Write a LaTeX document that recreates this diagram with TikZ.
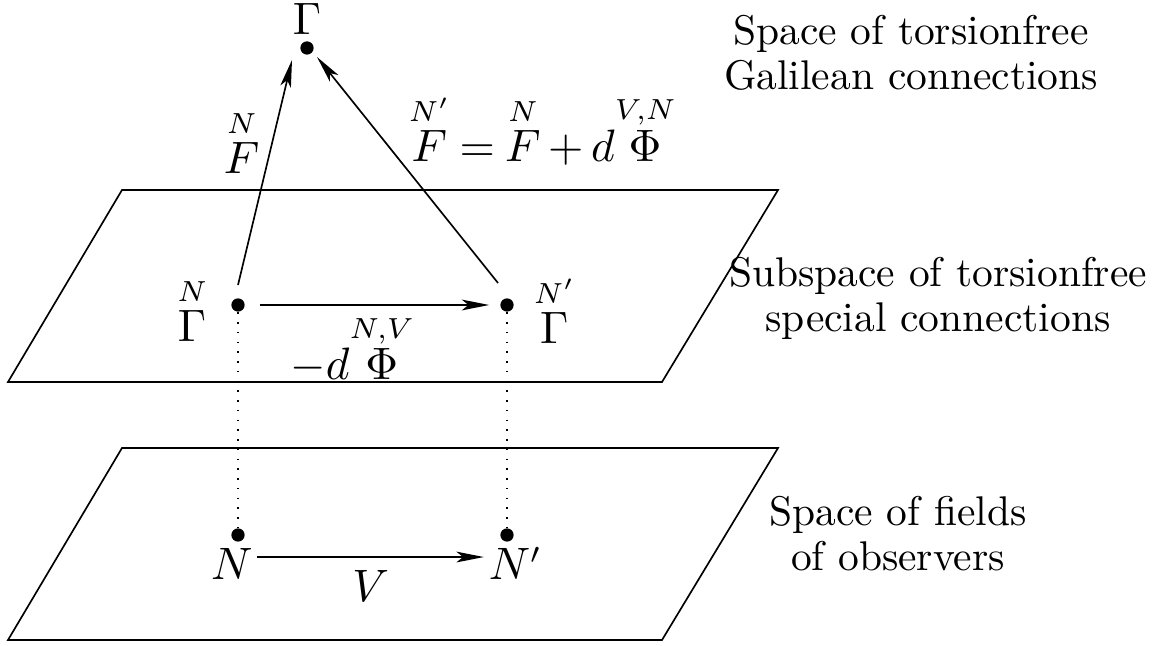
\documentclass[tikz,border=0pt]{standalone}
\usepackage{amsmath,amssymb}
\usetikzlibrary{arrows.meta,positioning}

\begin{document}
\begin{tikzpicture}[x=0.241pt, y=-0.241pt,
  dot/.style={circle, fill=black, inner sep=0pt, minimum size=3.2pt},
  lbl/.style={inner sep=1pt, font=\fontsize{10.6}{12.5}\selectfont},
  ptlbl/.style={lbl, text height=1.8ex, text depth=0.2ex},
  txt/.style={align=center, inner sep=0pt},
  arr/.style={-{Stealth[length=6.6pt,width=2.6pt,inset=1.6pt]}},
  plane/.style={draw, line width=0.4pt},
  vert/.style={dotted, line width=0.35pt},
]
\useasboundingbox (0,0) rectangle (1162,646);

% planes
\draw[plane] (122,190) -- (778,190) -- (662,382) -- (8,382) -- cycle;
\draw[plane] (122,448) -- (778,448) -- (662,640) -- (8,640) -- cycle;

% points
\node[dot] (gal) at (307,48) {};
\node[lbl, above=0.3pt of gal] (galtxt) {$\Gamma$};
\node[dot] (spN) at (238,305) {};
\node[lbl, left=4.5pt of spN, yshift=-1pt] (spNtxt) {$\overset{N}{\Gamma}$};
\node[dot] (spNp) at (507,305) {};
\node[lbl, right=3.5pt of spNp, yshift=-1pt] (spNptxt) {$\overset{N'}{\Gamma}$};
\node[dot] (obsN) at (238,535) {};
\node[ptlbl, below=0pt of obsN, xshift=-1.5pt] (obsNtxt) {$N$};
\node[dot] (obsNp) at (507,535) {};
\node[ptlbl, below=0pt of obsNp, xshift=2pt] (obsNptxt) {$N'$};

% descriptions
\node[txt] (topdesc) at (911,53) {Space of torsionfree\\[-1.2pt]Galilean connections};
\node[txt] (middesc) at (938,298) {Subspace of torsionfree\\[-1.2pt]special connections};
\node[txt] (botdesc) at (898,534) {Space of fields\\[-1.2pt]of observers};

% arrows
\draw[arr] ([shift={(0,-20)}]spN.center) -- ([shift={(-15,12)}]gal.center)
  node[lbl, pos=0.64, left=2pt] {$\overset{N}{F}$};
\draw[arr] ([shift={(-9,-22)}]spNp.center) -- ([shift={(10,9)}]gal.center)
  node[lbl, pos=0.68, right=7pt] {$\thickmuskip=4mu\medmuskip=3mu
    \overset{N'}{F} = \overset{N}{F} + d\overset{V,N}{\Phi}$};
\draw[arr, shorten <=3.5pt, shorten >=2.5pt] (spN) -- (spNp)
  node[lbl, pos=0.42, below=1pt] {$-d\overset{N,V}{\Phi}$};
\draw[arr] ([yshift=2pt]obsNtxt.east) -- ([yshift=2pt]obsNptxt.west)
  node[lbl, midway, below=2pt] {$V$};
\draw[vert] (spN) -- (obsN);
\draw[vert] (spNp) -- (obsNp);
\end{tikzpicture}
\end{document}
